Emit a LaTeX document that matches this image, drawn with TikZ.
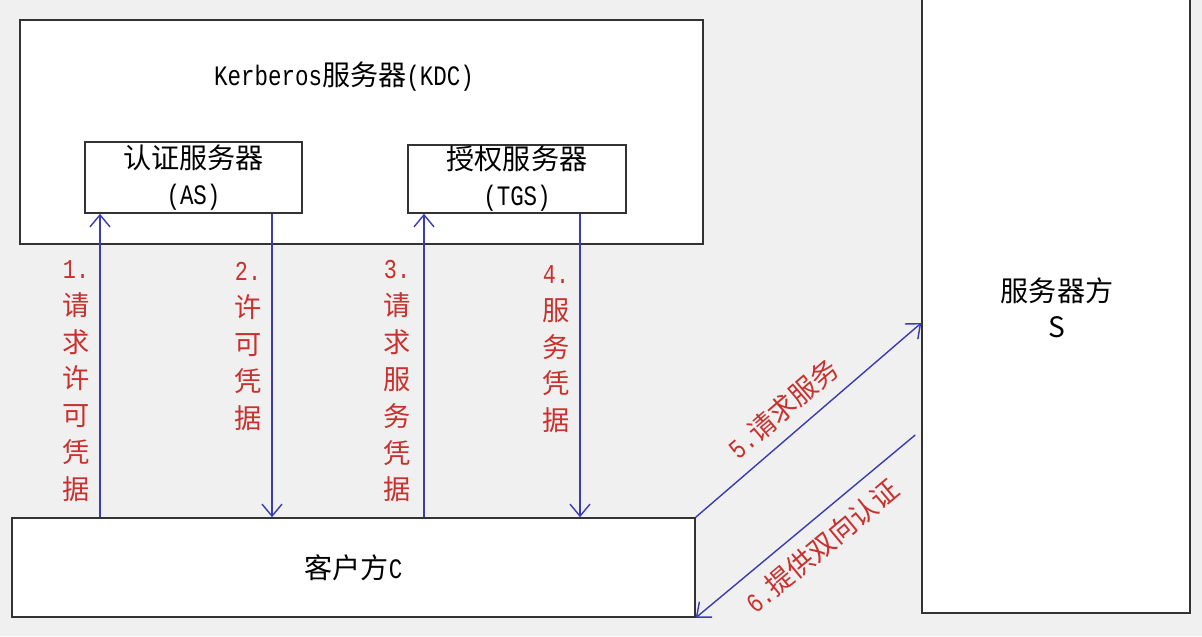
\documentclass[tikz,border=0pt]{standalone}
\usepackage{fontspec}
\setmainfont{Noto Sans CJK SC}
\newfontfamily\monofont[FakeStretch=0.8]{Liberation Mono}
\usetikzlibrary{arrows.meta}
\definecolor{bggray}{HTML}{F0F0F0}
\definecolor{linkblue}{HTML}{3B3BB3}
\definecolor{notered}{HTML}{C8312E}
\newcommand{\lat}[1]{{\monofont #1}}

\begin{document}
\begin{tikzpicture}[x=0.02cm,y=-0.02cm,>={Straight Barb[length=2.4mm,width=4mm]},box/.style={draw=black!80, line width=0.9pt, fill=white, align=center, inner sep=0pt, font=\fontsize{16}{20.5}\selectfont},arrow/.style={->, draw=linkblue, line width=0.8pt},note/.style={text=notered, align=center, inner sep=0pt, font=\fontsize{15.5}{21}\selectfont}]
\useasboundingbox (0,0) rectangle (1202,636);
\fill[bggray] (0,0) rectangle (1202,636);
\clip (0,0) rectangle (1202,636);
% boxes
\node[box, minimum width=13.66cm, minimum height=4.48cm] (kdc) at (361.5,132) {};
\node[font=\fontsize{16}{20}\selectfont, inner sep=0pt] (kdctitle) at (344,77) {\lat{Kerberos}服务器\lat{(KDC)}};
\node[box, minimum width=4.34cm, minimum height=1.42cm] (as) at (193.5,177.5) {认证服务器\\\lat{(AS)}};
\node[box, minimum width=4.36cm, minimum height=1.36cm] (tgs) at (517,179) {授权服务器\\\lat{(TGS)}};
\node[box, minimum width=13.66cm, minimum height=1.98cm] (client) at (353.5,567.5) {客户方\lat{C}};
\node[box, minimum width=5.36cm, minimum height=12.66cm] (server) at (1056,296.5) {};
\node[font=\fontsize{16}{20.5}\selectfont, align=center, inner sep=0pt] (servertext) at (1057,308) {服务器方\\S};
% vertical connectors
\coordinate (c1) at (100,0);
\coordinate (c2) at (272,0);
\coordinate (c3) at (424,0);
\coordinate (c4) at (580,0);
\draw[arrow] (c1 |- client.north) -- (c1 |- as.south);
\draw[arrow] (c2 |- as.south) -- (c2 |- client.north);
\draw[arrow] (c3 |- client.north) -- (c3 |- tgs.south);
\draw[arrow] (c4 |- tgs.south) -- (c4 |- client.north);
\node[note, anchor=north] (lbl1) at (76,260) {\lat{1.}\\请\\求\\许\\可\\凭\\据};
\node[note, anchor=north] (lbl2) at (248,262) {\lat{2.}\\许\\可\\凭\\据};
\node[note, anchor=north] (lbl3) at (397,260) {\lat{3.}\\请\\求\\服\\务\\凭\\据};
\node[note, anchor=north] (lbl4) at (556,265) {\lat{4.}\\服\\务\\凭\\据};
% diagonal connectors
\draw[arrow] (client.north east) -- node[note, pos=0.46, sloped, above=7pt] (lbl5) {\lat{5.}请求服务} ([yshift=-0.53cm]server.west);
\draw[arrow] ([xshift=-0.12cm, yshift=-2.77cm]server.west) -- node[note, pos=0.5, sloped, below=7pt] (lbl6) {\lat{6.}提供双向认证} (client.south east);
\end{tikzpicture}
\end{document}
